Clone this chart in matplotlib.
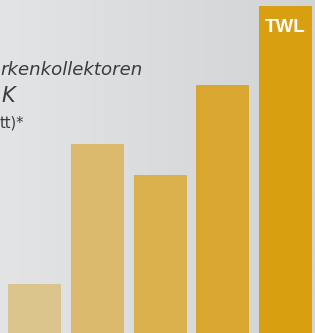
import numpy as np
import matplotlib
matplotlib.use("Agg")
import matplotlib.pyplot as plt
from matplotlib.colors import LinearSegmentedColormap

# Data
categories = ["A", "B", "C", "D", "TWL"]
values = [49, 189, 158, 248, 327]
bar_colors = ["#DBC58D", "#DBBA6D", "#DAB04D", "#D9A72F", "#D8A010"]
title_lines = ["rkenkollektoren", "K", "tt)*"]

W, H = 315, 333
fig = plt.figure(figsize=(W / 100, H / 100), dpi=100)
ax = fig.add_axes([0, 0, 1, 1])
ax.set_xlim(0, W)
ax.set_ylim(0, H)
ax.axis("off")

# background gradient
cmap = LinearSegmentedColormap.from_list("bg", ["#E3E4E6", "#D2D3D5"])
grad = np.linspace(0, 1, 256).reshape(1, -1)
ax.imshow(grad, cmap=cmap, extent=[0, W, 0, H], aspect="auto", zorder=0)

# bars
x_left = [8, 71, 134, 196, 259]
width = 53
ax.bar(x_left, values, width=width, align="edge", color=bar_colors, zorder=2)

# TWL label
ax.text(x_left[-1] + width / 2, H - 28, categories[-1], color="white",
        fontsize=13.5, fontweight="bold", family="Liberation Sans",
        ha="center", va="center", zorder=3)

# title fragments (the reference shows them cut at the left edge)
ax.text(0, H - 75, title_lines[0], fontsize=13.1, style="italic",
        color="#3A3B3E", ha="left", va="baseline", family="DejaVu Sans", zorder=3)
ax.text(1, H - 102, title_lines[1], fontsize=15, style="italic",
        color="#3A3B3E", ha="left", va="baseline", family="DejaVu Sans", zorder=3)
ax.text(0, H - 128, title_lines[2], fontsize=10.5, color="#3A3B3E",
        ha="left", va="baseline", family="DejaVu Sans", zorder=3)

fig.savefig("out.png", dpi=100)
